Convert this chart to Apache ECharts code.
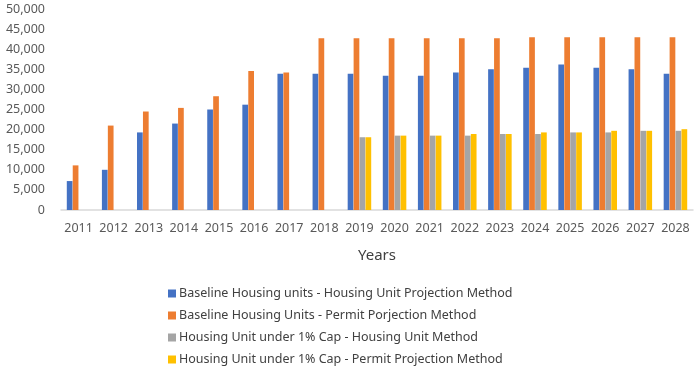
<!DOCTYPE html>
<html>
<head>
<meta charset="utf-8">
<script src="https://cdn.jsdelivr.net/npm/echarts@6/dist/echarts.min.js"></script>
<style>
html,body{margin:0;padding:0;background:#fff;}
#chart{width:700px;height:372px;}
</style>
</head>
<body>
<div id="chart"></div>
<script>
const years = ['2011','2012','2013','2014','2015','2016','2017','2018','2019','2020','2021','2022','2023','2024','2025','2026','2027','2028'];
const seriesNames = [
  'Baseline Housing units - Housing Unit Projection Method',
  'Baseline Housing Units - Permit Porjection Method',
  'Housing Unit under 1% Cap - Housing Unit Method',
  'Housing Unit under 1% Cap - Permit Projection Method'
];
const baselineHU = [7200,10000,19300,21500,25000,26200,33900,33900,33900,33400,33400,34200,35000,35400,36200,35400,35000,33900];
const baselinePermit = [11100,21000,24500,25400,28300,34600,34200,42700,42700,42700,42700,42700,42700,43000,43000,43000,43000,43000];
const capHU = [null,null,null,null,null,null,null,null,18100,18500,18500,18500,18900,18900,19300,19300,19700,19700];
const capPermit = [null,null,null,null,null,null,null,null,18100,18500,18500,18900,18900,19300,19300,19700,19700,20100];
const colors = ['#4472C4','#ED7D31','#A5A5A5','#FFC000'];
const yTicks = {min:0, max:50000, interval:5000};

const font = 'Noto Sans';
const chart = echarts.init(document.getElementById('chart'));
const dataSets = [baselineHU, baselinePermit, capHU, capPermit];
chart.setOption({
  animation:false,
  color: colors,
  textStyle:{fontFamily:font},
  grid:{left:61, right:7, top:9, bottom:162, containLabel:false},
  legend:{
    orient:'vertical', left:163, top:282, itemGap:9,
    itemWidth:8, itemHeight:8, icon:'rect',
    textStyle:{fontSize:12.5, color:'#404040', fontFamily:font, padding:[0,0,0,-2]},
    data: seriesNames
  },
  xAxis:{
    type:'category', data: years,
    name:'Years', nameLocation:'middle', nameGap:38,
    nameTextStyle:{fontSize:15, color:'#404040', fontFamily:font},
    axisLine:{lineStyle:{color:'#D9D9D9', width:1.5}},
    axisTick:{show:false},
    axisLabel:{fontSize:12.5, color:'#595959', margin:12, interval:0}
  },
  yAxis:{
    type:'value', min:yTicks.min, max:yTicks.max, interval:yTicks.interval,
    splitLine:{show:false}, axisLine:{show:false}, axisTick:{show:false},
    axisLabel:{fontSize:12.5, color:'#595959', margin:16,
      formatter: v => v.toLocaleString('en-US')}
  },
  series: seriesNames.map((n,i)=>({
    name:n, type:'bar', data:dataSets[i],
    barGap:'4%', barCategoryGap:'33%',
    itemStyle:{color:colors[i]}
  }))
});
</script>
</body>
</html>
